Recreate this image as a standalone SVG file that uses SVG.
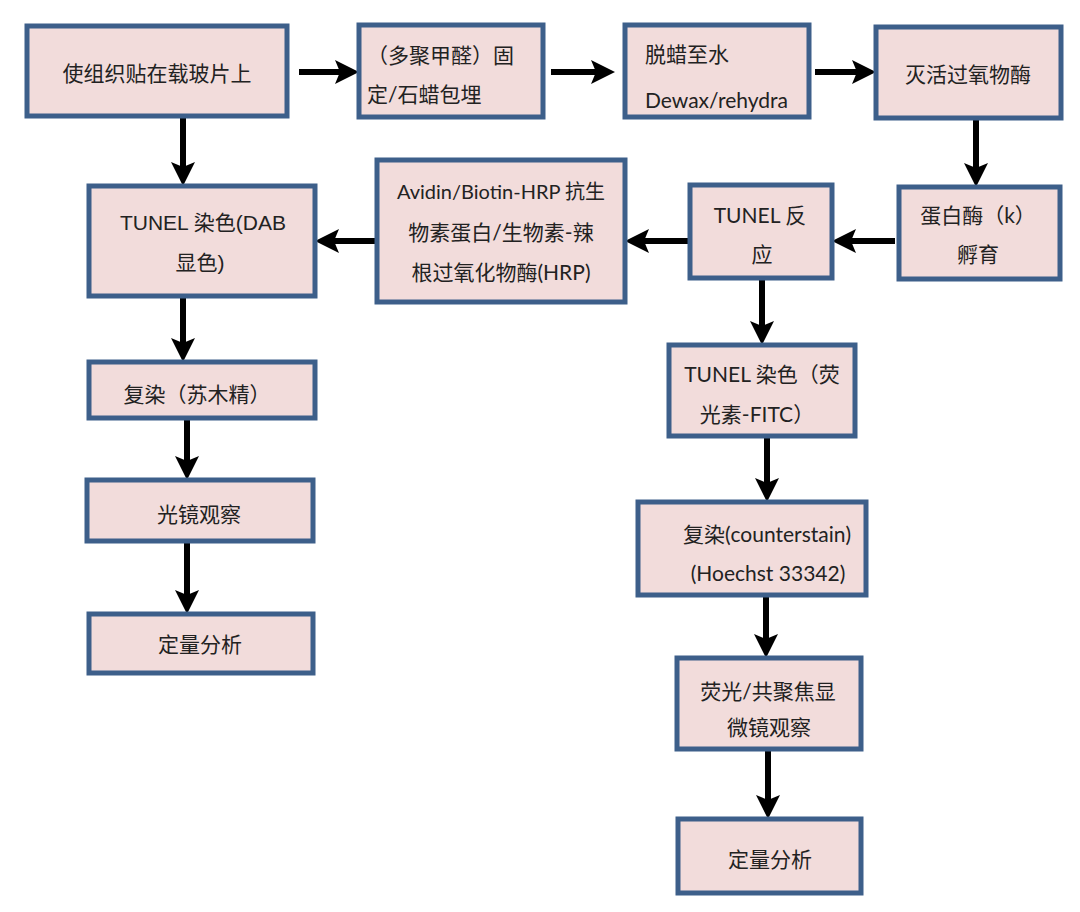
<svg xmlns="http://www.w3.org/2000/svg" width="1080" height="912" viewBox="0 0 1080 912">
<defs>
<style>
.box{fill:#f2dcdb;stroke:#3d5f8a;stroke-width:5}
.t{font-family:"Lato","Noto Sans CJK SC",sans-serif;font-size:21px;fill:#222;text-anchor:middle;dominant-baseline:central}
.ta{font-family:"Liberation Sans","Noto Sans CJK SC",sans-serif;font-size:21px;fill:#222;text-anchor:middle;dominant-baseline:central}
.s{font-size:20px}
.l{text-anchor:start}
.c{stroke:#000;stroke-width:6;fill:none}
</style>
<marker id="ah" markerUnits="userSpaceOnUse" markerWidth="24" markerHeight="26" viewBox="0 0 24 26" refX="10" refY="13" orient="auto">
<path d="M0,1 L24,13 L0,25 L5,13 Z" fill="#000"/>
</marker>
</defs>
<rect width="1080" height="912" fill="#fff"/>
<g id="connectors">
<line class="c" x1="299" y1="72" x2="345" y2="72" marker-end="url(#ah)"/>
<line class="c" x1="551" y1="72" x2="601" y2="72" marker-end="url(#ah)"/>
<line class="c" x1="815" y1="72" x2="862" y2="72" marker-end="url(#ah)"/>
<line class="c" x1="183" y1="118" x2="183" y2="172" marker-end="url(#ah)"/>
<line class="c" x1="976" y1="120" x2="976" y2="173" marker-end="url(#ah)"/>
<line class="c" x1="895" y1="241" x2="846" y2="241" marker-end="url(#ah)"/>
<line class="c" x1="688" y1="241" x2="639" y2="241" marker-end="url(#ah)"/>
<line class="c" x1="375" y1="241" x2="329" y2="241" marker-end="url(#ah)"/>
<line class="c" x1="183" y1="298" x2="183" y2="348" marker-end="url(#ah)"/>
<line class="c" x1="187" y1="420" x2="187" y2="466" marker-end="url(#ah)"/>
<line class="c" x1="187" y1="543" x2="187" y2="600" marker-end="url(#ah)"/>
<line class="c" x1="762" y1="280" x2="762" y2="331" marker-end="url(#ah)"/>
<line class="c" x1="767" y1="438" x2="767" y2="488" marker-end="url(#ah)"/>
<line class="c" x1="766" y1="597" x2="766" y2="644" marker-end="url(#ah)"/>
<line class="c" x1="768" y1="751" x2="768" y2="805" marker-end="url(#ah)"/>
</g>
<g id="n1"><rect class="box" x="27" y="26" width="260" height="90"/><text class="t" x="157" y="72">使组织贴在载玻片上</text></g>
<g id="n2"><rect class="box" x="359" y="25" width="184" height="92"/><text class="t l" x="367" y="54">（多聚甲醛）固</text><text class="t l" x="367" y="93">定/石蜡包埋</text></g>
<g id="n3"><rect class="box" x="625" y="25" width="184" height="92"/><text class="t l" x="645" y="53">脱蜡至水</text><text class="t l" x="645" y="99">Dewax/rehydra</text></g>
<g id="n4"><rect class="box" x="876" y="27" width="185" height="91"/><text class="t" x="968" y="73">灭活过氧物酶</text></g>
<g id="n5"><rect class="box" x="899" y="187" width="161" height="92"/><text class="t" x="978" y="214">蛋白酶（k）</text><text class="t" x="978" y="253">孵育</text></g>
<g id="n6"><rect class="box" x="690" y="185" width="142" height="93"/><text class="t" x="760" y="214">TUNEL 反</text><text class="t" x="762" y="253">应</text></g>
<g id="n7"><rect class="box" x="377" y="160" width="248" height="142"/><text class="t s" x="501" y="191">Avidin/Biotin-HRP 抗生</text><text class="t" x="501" y="231">物素蛋白/生物素-辣</text><text class="t" x="501" y="271">根过氧化物酶(HRP)</text></g>
<g id="n8"><rect class="box" x="89" y="186" width="226" height="110"/><text class="ta" x="203" y="222">TUNEL 染色(DAB</text><text class="ta" x="200" y="262">显色)</text></g>
<g id="n9"><rect class="box" x="89" y="362" width="226" height="56"/><text class="t" x="197" y="393">复染（苏木精）</text></g>
<g id="n10"><rect class="box" x="87" y="480" width="226" height="61"/><text class="t" x="199" y="513">光镜观察</text></g>
<g id="n11"><rect class="box" x="89" y="614" width="224" height="59"/><text class="t" x="200" y="643">定量分析</text></g>
<g id="n12"><rect class="box" x="669" y="345" width="186" height="91"/><text class="t" x="762" y="373">TUNEL 染色（荧</text><text class="t" x="757" y="413">光素-FITC）</text></g>
<g id="n13"><rect class="box" x="638" y="502" width="228" height="93"/><text class="t" x="767" y="533">复染(counterstain)</text><text class="t" x="768" y="572">(Hoechst 33342)</text></g>
<g id="n14"><rect class="box" x="677" y="658" width="184" height="91"/><text class="t" x="768" y="690">荧光/共聚焦显</text><text class="t" x="769" y="726">微镜观察</text></g>
<g id="n15"><rect class="box" x="678" y="819" width="183" height="74"/><text class="t" x="770" y="858">定量分析</text></g>
</svg>
